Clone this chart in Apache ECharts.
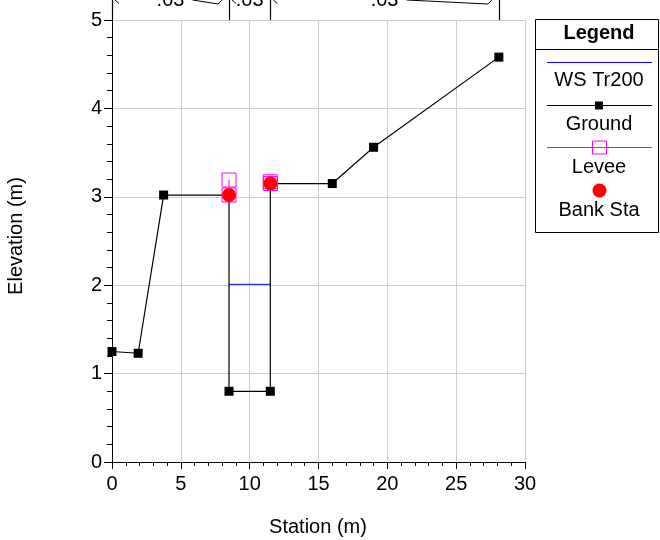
<!DOCTYPE html>
<html>
<head>
<meta charset="utf-8">
<script src="https://cdn.jsdelivr.net/npm/echarts@6/dist/echarts.min.js"></script>
<style>html,body{margin:0;padding:0;background:#fff}#c{width:660px;height:540px}</style>
</head>
<body>
<div id="c"></div>
<script>
// ---- data ----
const groundStation = [0, 1.9, 3.75, 8.5, 8.5, 11.5, 11.5, 16, 19, 28.1];
const groundElev    = [1.25, 1.23, 3.02, 3.02, 0.80, 0.80, 3.15, 3.15, 3.56, 4.58];
const wsStation = [8.5, 11.5];
const wsElev    = [2.01, 2.01];
const leftLeveeStation  = [8.5, 8.5];
const leftLeveeElev     = [3.02, 3.19];
const rightLeveeStation = [11.5, 11.5];
const rightLeveeElev    = [3.15, 3.17];
const bankStation = [8.5, 11.5];
const bankElev    = [3.02, 3.15];
const nBreaks = [0, 8.5, 11.5, 28.1];
const nValues = ['.03', '.03', '.03'];
const xTicks = [0, 30, 5];
const yTicks = [0, 5, 1];

const FONT = '"Liberation Sans", Arial, Helvetica, sans-serif';
const zip = (a, b) => a.map((v, i) => [v, b[i]]);

const chart = echarts.init(document.getElementById('c'), null, {renderer: 'canvas'});

const legendGraphic = [
  {type: 'rect', shape: {x: 535.5, y: 19.5, width: 123, height: 213}, style: {fill: '#fff', stroke: '#000', lineWidth: 1}, z: 10},
  {type: 'line', shape: {x1: 535.5, y1: 49.5, x2: 658.5, y2: 49.5}, style: {stroke: '#000', lineWidth: 1}, z: 11},
  {type: 'text', x: 599, y: 33, style: {text: 'Legend', font: 'bold 20px ' + FONT, fill: '#000', align: 'center', verticalAlign: 'middle'}, z: 11},
  {type: 'line', shape: {x1: 547, y1: 62.5, x2: 652, y2: 62.5}, style: {stroke: '#0000ff', lineWidth: 1}, z: 11},
  {type: 'text', x: 599, y: 80, style: {text: 'WS Tr200', font: '20px ' + FONT, fill: '#000', align: 'center', verticalAlign: 'middle'}, z: 11},
  {type: 'line', shape: {x1: 547, y1: 105.5, x2: 652, y2: 105.5}, style: {stroke: '#000', lineWidth: 1}, z: 11},
  {type: 'rect', shape: {x: 595, y: 101.5, width: 8, height: 8}, style: {fill: '#000'}, z: 12},
  {type: 'text', x: 599, y: 124, style: {text: 'Ground', font: '20px ' + FONT, fill: '#000', align: 'center', verticalAlign: 'middle'}, z: 11},
  {type: 'line', shape: {x1: 547, y1: 147.5, x2: 652, y2: 147.5}, style: {stroke: '#ff00ff', lineWidth: 1}, z: 11},
  {type: 'rect', shape: {x: 592.5, y: 141, width: 14, height: 13}, style: {fill: 'none', stroke: '#ff00ff', lineWidth: 1}, z: 12},
  {type: 'text', x: 599, y: 167, style: {text: 'Levee', font: '20px ' + FONT, fill: '#000', align: 'center', verticalAlign: 'middle'}, z: 11},
  {type: 'circle', shape: {cx: 599.5, cy: 190.5, r: 7}, style: {fill: '#ff0000'}, z: 12},
  {type: 'text', x: 599, y: 210, style: {text: 'Bank Sta', font: '20px ' + FONT, fill: '#000', align: 'center', verticalAlign: 'middle'}, z: 11},
  {type: 'text', x: 318, y: 527, style: {text: 'Station (m)', font: '20px ' + FONT, fill: '#000', align: 'center', verticalAlign: 'middle'}},
  {type: 'text', x: 16, y: 236, rotation: Math.PI / 2, style: {text: 'Elevation (m)', font: '20px ' + FONT, fill: '#000', align: 'center', verticalAlign: 'middle'}}
];

const option = {
  animation: false,
  backgroundColor: '#fff',
  grid: {left: 112, right: 135, top: 20, bottom: 78, containLabel: false},
  xAxis: {
    type: 'value', min: xTicks[0], max: xTicks[1], interval: xTicks[2],
    axisLine: {show: true, onZero: false, lineStyle: {color: '#000', width: 1}},
    axisTick: {show: true, length: 7, lineStyle: {color: '#000'}},
    minorTick: {show: true, splitNumber: 5, length: 4, lineStyle: {color: '#000'}},
    splitLine: {show: true, lineStyle: {color: '#cccccc', width: 1}},
    axisLabel: {color: '#000', fontSize: 20, fontFamily: FONT, margin: 12}
  },
  yAxis: {
    type: 'value', min: yTicks[0], max: yTicks[1], interval: yTicks[2],
    axisLine: {show: true, onZero: false, lineStyle: {color: '#000', width: 1}},
    axisTick: {show: true, length: 8, lineStyle: {color: '#000'}},
    minorTick: {show: true, splitNumber: 5, length: 5, lineStyle: {color: '#000'}},
    splitLine: {show: true, lineStyle: {color: '#cccccc', width: 1}},
    axisLabel: {color: '#000', fontSize: 20, fontFamily: FONT, margin: 10}
  },
  series: [
    {name: 'WS Tr200', type: 'line', data: zip(wsStation, wsElev), showSymbol: false, symbol: 'none',
     lineStyle: {color: '#0000ff', width: 1}, z: 2},
    {name: 'Ground', type: 'line', data: zip(groundStation, groundElev), symbol: 'rect', symbolSize: 9,
     itemStyle: {color: '#000'}, lineStyle: {color: '#000', width: 1.2}, z: 3},
    {name: 'Levee', type: 'line', data: zip(leftLeveeStation, leftLeveeElev), symbol: 'rect', symbolSize: 14,
     itemStyle: {color: 'rgba(0,0,0,0)', borderColor: '#ff00ff', borderWidth: 1}, lineStyle: {color: '#ff00ff', width: 1}, z: 4},
    {name: 'Levee', type: 'line', data: zip(rightLeveeStation, rightLeveeElev), symbol: 'rect', symbolSize: 14,
     itemStyle: {color: 'rgba(0,0,0,0)', borderColor: '#ff00ff', borderWidth: 1}, lineStyle: {color: '#ff00ff', width: 1}, z: 4},
    {name: 'Bank Sta', type: 'scatter', data: zip(bankStation, bankElev), symbol: 'circle', symbolSize: 14,
     itemStyle: {color: '#ff0000', opacity: 1}, z: 5}
  ],
  graphic: legendGraphic
};
chart.setOption(option);

// Manning's n region markers above the plot (positions from data via the axis scale)
const topY = chart.convertToPixel({gridIndex: 0}, [0, yTicks[1]])[1];
const px = nBreaks.map(s => chart.convertToPixel({gridIndex: 0}, [s, 0])[0]);
const extra = [];
px.forEach(x => {
  extra.push({type: 'line', shape: {x1: Math.round(x) + 0.5, y1: -2, x2: Math.round(x) + 0.5, y2: topY}, style: {stroke: '#000', lineWidth: 1.2}});
});
for (let i = 0; i < nValues.length; i++) {
  const mid = chart.convertToPixel({gridIndex: 0}, [(nBreaks[i] + nBreaks[i + 1]) / 2, 0])[0];
  extra.push({type: 'text', x: mid, y: 0, style: {text: nValues[i], font: '20px ' + FONT, fill: '#000', align: 'center', verticalAlign: 'middle'}});
  const a = px[i], b = px[i + 1];
  // left arrow head wing
  extra.push({type: 'line', shape: {x1: a + 2, y1: -1, x2: a + 7, y2: 3.5}, style: {stroke: '#000', lineWidth: 1}});
  // right arrow shaft and wing (partly cut off)
  if (b - a > 60) {
    extra.push({type: 'polyline', shape: {points: [[mid + 22, 0], [b - 11, 4], [b - 7, 0]]}, style: {stroke: '#000', lineWidth: 1, fill: 'none'}});
  }
}
chart.setOption({graphic: legendGraphic.concat(extra)});
</script>
</body>
</html>
